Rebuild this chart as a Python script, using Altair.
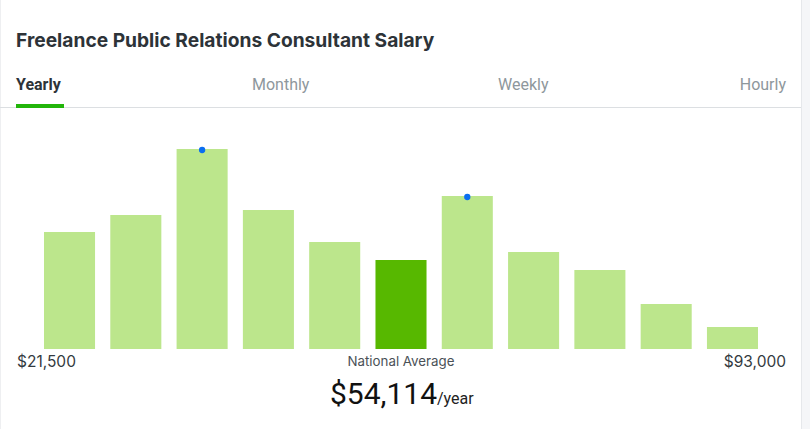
import altair as alt
import pandas as pd

# Data
bins = ["b01", "b02", "b03", "b04", "b05", "b06", "b07", "b08", "b09", "b10", "b11"]
heights = [117, 134, 200, 139, 107, 89, 153, 97, 79, 45, 22]
highlight = [False, False, False, False, False, True, False, False, False, False, False]
marked = [False, False, True, False, False, False, True, False, False, False, False]

title_text = "Freelance Public Relations Consultant Salary"
tabs = ["Yearly", "Monthly", "Weekly", "Hourly"]
low_label = "$21,500"
high_label = "$93,000"
avg_caption = "National Average"
avg_value = "$54,114"
avg_unit = "/year"

FONT = "Roboto"

df = pd.DataFrame({"bin": bins, "h": heights, "hl": highlight, "mk": marked})

xscale = alt.Scale(domain=bins, range=[44, 758], paddingInner=0.23, paddingOuter=0)
yscale = alt.Scale(domain=[0, 200], range=[349, 149])

bars = alt.Chart(df).mark_bar().encode(
    x=alt.X("bin:N", scale=xscale, axis=None),
    y=alt.Y("h:Q", scale=yscale, axis=None),
    color=alt.condition("datum.hl", alt.value("#57b800"), alt.value("#bce68c")),
)

dots = alt.Chart(df).transform_filter("datum.mk").mark_point(
    filled=True, size=40, color="#0a6ef0", opacity=1, yOffset=1
).encode(
    x=alt.X("bin:N", scale=xscale, axis=None),
    y=alt.Y("h:Q", scale=yscale, axis=None),
)

one = pd.DataFrame({"k": [0]})


def txt(text, x, y, size, color, weight="normal", align="left", font=FONT):
    return alt.Chart(one).mark_text(
        text=text, fontSize=size, color=color, fontWeight=weight,
        align=align, baseline="alphabetic", font=font
    ).encode(x=alt.value(x), y=alt.value(y))


# card edges / background strip
strip = alt.Chart(one).mark_rect(color="#f5f6f8").encode(
    x=alt.value(801), x2=alt.value(810), y=alt.value(0), y2=alt.value(429)
)
right_edge = alt.Chart(one).mark_rule(color="#e6e8eb", strokeWidth=1).encode(
    x=alt.value(801.5), y=alt.value(0), y2=alt.value(429)
)
left_edge = alt.Chart(one).mark_rule(color="#eeeff1", strokeWidth=1).encode(
    x=alt.value(0.5), y=alt.value(0), y2=alt.value(429)
)
sep = alt.Chart(one).mark_rule(color="#dcdfe2", strokeWidth=1).encode(
    x=alt.value(0), x2=alt.value(801), y=alt.value(107.5)
)
underline = alt.Chart(one).mark_rect(color="#22b50a").encode(
    x=alt.value(16), x2=alt.value(64), y=alt.value(104), y2=alt.value(108)
)

texts = [
    txt(title_text, 16, 47, 19.2, "#2d3338", weight="bold", font="Inter"),
    txt(tabs[0], 16, 90, 16, "#2d3338", weight="bold"),
    txt(tabs[1], 252, 90, 16, "#8e979c"),
    txt(tabs[2], 498, 90, 16, "#8e979c"),
    txt(tabs[3], 786, 90, 16, "#8e979c", align="right"),
    txt(low_label, 17, 367, 15.5, "#333a40", font="Inter"),
    txt(high_label, 786, 367, 15.5, "#333a40", align="right", font="Inter"),
    txt(avg_caption, 401, 366, 13.3, "#4a5157", align="center", font="Inter"),
    txt(avg_value, 437, 404, 30, "#111111", align="right"),
    txt(avg_unit, 437, 404, 16, "#222222"),
]

chart = alt.layer(strip, right_edge, left_edge, sep, underline, bars, dots, *texts).properties(
    width=810, height=429, padding=0, autosize="none", background="white"
).configure_view(stroke=None)

chart.save("out.html", embed_options={"renderer": "svg", "actions": False})
